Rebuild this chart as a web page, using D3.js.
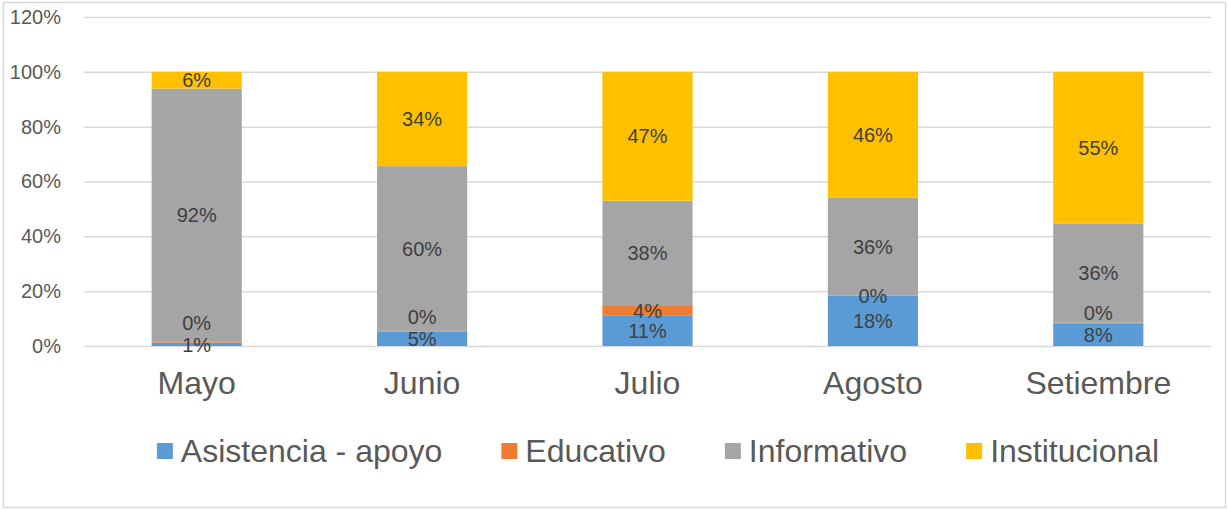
<!DOCTYPE html>
<html>
<head>
<meta charset="utf-8">
<script src="https://cdn.jsdelivr.net/npm/d3@7"></script>
<style>
  body { margin: 0; background: #fff; }
  text { font-family: "Liberation Sans", Arial, sans-serif; }
</style>
</head>
<body>
<script>
const WIDTH = 1228;
const HEIGHT = 510;
const PLOT_LEFT = 84;
const PLOT_RIGHT = 1211;
const PLOT_TOP = 17;
const PLOT_BOTTOM = 346;

// data (percent)
var months = ['Mayo', 'Junio', 'Julio', 'Agosto', 'Setiembre'];
var seriesNames = ['Asistencia - apoyo', 'Educativo', 'Informativo', 'Institucional'];
var asistencia = [1.2, 5.3, 11.0, 18.3, 8.3];
var educativo = [0.3, 0.2, 3.9, 0.2, 0.2];
var informativo = [92.4, 60.1, 38.1, 35.6, 36.2];
var institucional = [6.1, 34.4, 47.0, 45.9, 55.3];
var yTicks = [0, 20, 40, 60, 80, 100, 120];
var colors = ['#5B9BD5', '#ED7D31', '#A5A5A5', '#FFC000'];

var _xScale, _yScale, svg;

var createSvg = function(){
	svg = d3.select('body')
		.append('svg')
		.attr('width', WIDTH)
		.attr('height', HEIGHT);

	svg.append('rect')
		.attr('x', 3.5).attr('y', 2.5)
		.attr('width', 1222).attr('height', 505)
		.attr('fill', '#fff')
		.attr('stroke', '#D9D9D9')
		.attr('stroke-width', 1.5);

	_xScale = d3.scaleBand().domain(months).range([PLOT_LEFT, PLOT_RIGHT])
		.paddingInner(0.6).paddingOuter(0.3);
	_yScale = d3.scaleLinear().domain([0, 120]).range([PLOT_BOTTOM, PLOT_TOP]);

	var yAxis = d3.axisLeft(_yScale)
		.tickValues(yTicks)
		.tickSize(-(PLOT_RIGHT - PLOT_LEFT))
		.tickPadding(23)
		.tickFormat(function(d){ return d + '%'; });
	var g = svg.append('g')
		.attr('transform', 'translate(' + PLOT_LEFT + ',0)')
		.call(yAxis);
	g.select('.domain').remove();
	g.selectAll('.tick line').attr('stroke', '#D9D9D9').attr('stroke-width', 1.5);
	g.selectAll('.tick text')
		.attr('fill', '#595959')
		.style('font-size', '20px');

	var xAxis = d3.axisBottom(_xScale).tickSize(0).tickPadding(0);
	var gx = svg.append('g')
		.attr('transform', 'translate(0,' + PLOT_BOTTOM + ')')
		.call(xAxis);
	gx.select('.domain').remove();
	gx.selectAll('.tick text')
		.attr('dy', null)
		.attr('y', 48)
		.attr('fill', '#595959')
		.style('font-size', '32px');
}

var drawBars = function(){
	var rows = months.map(function(m, i){
		return { month: m, a: asistencia[i], e: educativo[i], inf: informativo[i], ins: institucional[i] };
	});
	var keys = ['a', 'e', 'inf', 'ins'];
	var stacked = d3.stack().keys(keys)(rows);

	var layers = svg.append('g').selectAll('g')
		.data(stacked)
		.enter()
		.append('g')
		.attr('fill', function(d, i){ return colors[i]; });

	layers.selectAll('rect')
		.data(function(d){ return d; })
		.enter()
		.append('rect')
		.attr('x', function(d){ return _xScale(d.data.month); })
		.attr('width', _xScale.bandwidth())
		.attr('y', function(d){ return _yScale(d[1]); })
		.attr('height', function(d){ return _yScale(d[0]) - _yScale(d[1]); });

	// labels, pushed up when they would overlap the one below
	var labels = [];
	months.forEach(function(m, i){
		var lastY = null;
		stacked.forEach(function(layer){
			var d = layer[i];
			var y = (_yScale(d[0]) + _yScale(d[1])) / 2;
			if (lastY !== null && lastY - y < 20) y = lastY - 22;
			lastY = y;
			labels.push({ x: _xScale(m) + _xScale.bandwidth() / 2, y: y, v: d[1] - d[0] });
		});
	});

	svg.append('g').selectAll('text')
		.data(labels)
		.enter()
		.append('text')
		.attr('x', function(d){ return d.x; })
		.attr('y', function(d){ return d.y; })
		.attr('dy', '0.36em')
		.attr('text-anchor', 'middle')
		.attr('fill', '#404040')
		.style('font-size', '20px')
		.text(function(d){ return Math.round(d.v) + '%'; });
}

var drawLegend = function(){
	var legend = svg.append('g');
	var items = legend.selectAll('g')
		.data(seriesNames)
		.enter()
		.append('g');
	items.append('rect')
		.attr('width', 16).attr('height', 16)
		.attr('y', 443)
		.attr('fill', function(d, i){ return colors[i]; });
	items.append('text')
		.attr('x', 24)
		.attr('y', 462)
		.attr('fill', '#595959')
		.style('font-size', '32px')
		.text(function(d){ return d; });

	var x = 0;
	var positions = [];
	items.each(function(){
		positions.push(x);
		x += 24 + this.querySelector('text').getComputedTextLength() + 59;
	});
	var total = x - 59;
	var start = 658 - total / 2;
	items.attr('transform', function(d, i){ return 'translate(' + (start + positions[i]) + ',0)'; });
}

window.onload = function(){
	createSvg();
	drawBars();
	drawLegend();
}
</script>
</body>
</html>
